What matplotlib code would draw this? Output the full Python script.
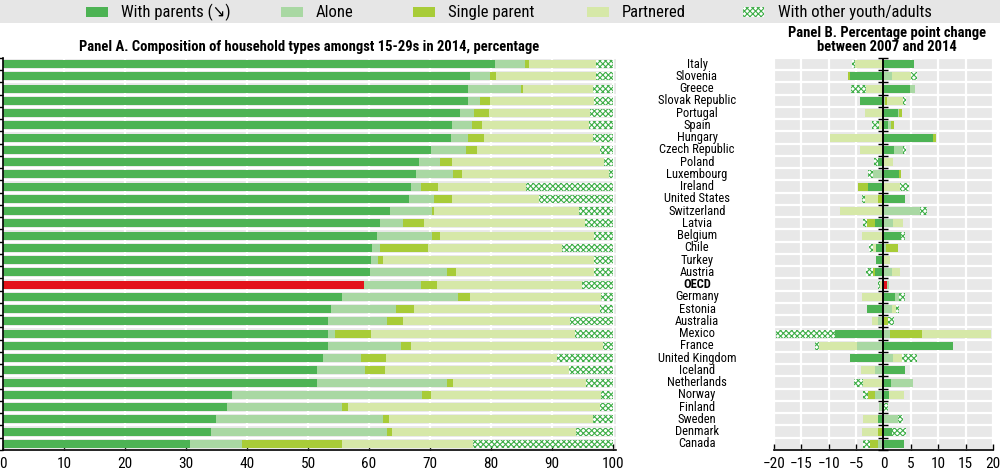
import matplotlib
matplotlib.use("Agg")
import matplotlib.pyplot as plt
import matplotlib.transforms as mtransforms
from matplotlib.patches import Rectangle
import numpy as np

# narrow face first; DejaVu (condensed) as fallback and for the arrow glyph
plt.rcParams['font.family'] = ['Roboto Condensed', 'DejaVu Sans']
plt.rcParams['font.stretch'] = 'condensed'
plt.rcParams['hatch.linewidth'] = 0.8

# ---- data -------------------------------------------------------------
countries = ["Italy", "Slovenia", "Greece", "Slovak Republic", "Portugal", "Spain",
             "Hungary", "Czech Republic", "Poland", "Luxembourg", "Ireland",
             "United States", "Switzerland", "Latvia", "Belgium", "Chile", "Turkey",
             "Austria", "OECD", "Germany", "Estonia", "Australia", "Mexico", "France",
             "United Kingdom", "Iceland", "Netherlands", "Norway", "Finland", "Sweden",
             "Denmark", "Canada"]

# Panel A: shares in 2014 (%)
with_parents = [80.6, 76.5, 76.3, 76.2, 75.0, 73.6, 73.5, 70.2, 68.2, 67.7, 66.9,
                66.6, 63.5, 61.8, 61.3, 60.5, 60.4, 60.2, 59.2, 55.5, 53.7, 53.3,
                53.3, 53.3, 52.4, 51.5, 51.4, 37.5, 36.7, 34.9, 34.1, 30.7]
alone = [4.9, 3.3, 8.7, 2.0, 2.3, 3.3, 2.8, 5.7, 3.4, 6.0, 1.6,
         4.0, 6.8, 3.8, 9.0, 1.3, 1.1, 12.6, 9.3, 19.1, 10.7, 9.7,
         1.2, 11.9, 6.3, 7.9, 21.4, 31.2, 18.8, 27.4, 28.9, 8.5]
single_parent = [0.8, 1.1, 0.3, 1.6, 2.4, 1.6, 2.5, 1.8, 2.0, 1.5, 2.8,
                 3.0, 0.3, 3.4, 1.3, 7.9, 0.8, 1.4, 2.6, 1.9, 3.0, 2.6,
                 5.9, 1.7, 4.1, 3.2, 0.9, 1.5, 1.1, 1.0, 0.8, 16.4]
partnered = [10.9, 16.3, 11.4, 17.1, 16.6, 17.5, 17.9, 20.1, 24.9, 24.1, 14.5,
             14.2, 23.9, 26.4, 25.3, 22.0, 34.6, 22.7, 23.8, 21.5, 30.5, 27.4,
             33.4, 31.5, 28.1, 30.2, 21.9, 27.8, 41.3, 33.4, 30.2, 21.4]
other = [2.8, 2.8, 3.3, 3.1, 3.7, 4.0, 3.3, 2.2, 1.5, 0.7, 14.2,
         12.2, 5.5, 4.6, 3.1, 8.3, 3.1, 3.1, 5.1, 2.0, 2.1, 7.0,
         6.2, 1.6, 9.1, 7.2, 4.4, 2.0, 2.1, 3.3, 6.0, 23.0]

# Panel B: percentage point change 2007-2014
chg_parents = [5.5, -6.1, 4.8, -4.2, 2.6, 0.9, 9.1, 2.0, -1.0, 2.9, -2.8,
               3.9, 0.0, -1.6, 3.2, -1.3, -1.3, -1.5, 0.6, 2.1, -3.0, 0.0,
               -8.9, 12.6, -6.1, 4.0, 1.4, 1.0, 0.0, -1.0, 1.5, 3.8]
chg_alone = [0.0, 1.6, 1.0, 0.2, 0.3, 0.5, 0.0, 1.5, 0.0, -1.9, 0.0,
             0.0, 6.7, 1.7, 0.0, 0.4, 0.0, 1.6, 0.4, 0.8, 1.6, -1.0,
             1.2, -4.9, 1.7, -1.5, 4.0, -1.6, -0.9, 2.6, 0.0, -1.0]
chg_single = [0.0, -0.3, 0.0, 0.4, 0.5, 0.6, 0.5, 0.0, 0.0, 0.3, -1.9,
              -1.0, 0.0, -1.4, 0.0, 2.2, 0.0, -0.4, 0.0, 0.0, 0.0, 0.8,
              5.8, 0.0, 0.0, 0.0, 0.0, -1.3, 0.0, 0.0, -1.0, -1.5]
chg_partnered = [-5.1, 3.5, -3.2, 3.0, -3.4, -0.8, -9.8, -4.2, 1.7, 0.0, 3.1,
                 -2.3, -8.0, 1.8, -3.9, -0.6, 1.2, 1.4, -0.7, -3.9, 0.7, -1.1,
                 12.6, -6.8, 1.7, -2.6, -3.7, 2.7, 0.0, -2.8, -3.0, 0.0]
chg_other = [-0.6, 1.0, -2.7, 0.5, 0.0, -1.2, 0.0, 0.6, -0.7, -1.0, 1.5,
             -0.6, 1.2, -0.7, 0.7, -0.7, 0.0, -1.2, -0.3, 1.1, 0.5, 1.2,
             -10.6, -0.7, 2.8, 0.0, -1.7, -0.8, 0.8, 0.9, 2.6, -1.2]

legend_labels = ["With parents (\u2198)", "Alone", "Single parent", "Partnered",
                 "With other youth/adults"]
colors = ["#4db354", "#a9d8a3", "#a8cc38", "#d6e8a8", "white"]
hatch_color = "#3fae48"
oecd_color = "#e3121b"
bg = "#e8e8e8"
HATCH = "xxxxxx"

# ---- figure -------------------------------------------------------------
fig = plt.figure(figsize=(10, 4.7), dpi=100)
axA = fig.add_axes([0.003, 0.0426, 0.613, 0.834])
axB = fig.add_axes([0.7737, 0.0426, 0.2195, 0.834])

n = len(countries)
y = np.arange(n)
bar_h = 0.66

series_a = [with_parents, alone, single_parent, partnered, other]
left = np.zeros(n)
for i, vals in enumerate(series_a):
    vals = np.array(vals)
    fc = [colors[i]] * n
    if i == 0:
        fc[countries.index("OECD")] = oecd_color
    if i == 4:
        axA.barh(y, vals, left=left, height=bar_h, color=colors[i],
                 edgecolor=hatch_color, hatch=HATCH, linewidth=0)
    else:
        axA.barh(y, vals, left=left, height=bar_h, color=fc, linewidth=0)
    left += vals

series_b = [chg_parents, chg_alone, chg_single, chg_partnered, chg_other]
pos = np.zeros(n)
neg = np.zeros(n)
for i, vals in enumerate(series_b):
    vals = np.array(vals)
    start = np.where(vals >= 0, pos, neg)
    fc = [colors[i]] * n
    if i == 0:
        fc[countries.index("OECD")] = oecd_color
    if i == 4:
        axB.barh(y, vals, left=start, height=bar_h, color=colors[i],
                 edgecolor=hatch_color, hatch=HATCH, linewidth=0)
    else:
        axB.barh(y, vals, left=start, height=bar_h, color=fc, linewidth=0)
    pos += np.where(vals >= 0, vals, 0)
    neg += np.where(vals < 0, vals, 0)

bounds = np.arange(-0.5, n, 1)

for ax in (axA, axB):
    ax.set_facecolor(bg)
    ax.set_ylim(n - 0.5, -0.5)
    ax.set_yticks(bounds)
    ax.set_yticklabels([])
    ax.grid(True, color="white", linewidth=1.6)
    ax.set_axisbelow(True)
    for s in ("top", "right"):
        ax.spines[s].set_visible(False)
    ax.spines["bottom"].set_linewidth(1.2)
    ax.tick_params(axis="x", direction="in", length=4, width=1, labelsize=11,
                   pad=5)

axA.set_xlim(0, 100.5)
axA.set_xticks(np.arange(0, 101, 10))
axA.spines["left"].set_linewidth(1.2)
axA.tick_params(axis="y", direction="out", length=3, width=1)

axB.set_xlim(-20, 20)
axB.set_xticks(np.arange(-20, 21, 5))
axB.spines["left"].set_visible(False)
axB.tick_params(axis="y", length=0)
axB.axvline(0, color="black", linewidth=1.4, zorder=5)
axB.plot(np.zeros(n + 1), bounds, linestyle="none", marker="_", markersize=7,
         color="black", markeredgewidth=1, zorder=6, clip_on=False)

# country labels between panels
trans = mtransforms.blended_transform_factory(fig.transFigure, axA.transData)
for i, c in enumerate(countries):
    axA.text(0.697, i, c, transform=trans, ha="center", va="center", fontsize=9,
             fontweight="bold" if c == "OECD" else "normal")

# titles
fig.text(0.309, 1 - 47 / 470, "Panel A. Composition of household types amongst 15-29s in 2014, percentage",
         ha="center", va="center", fontsize=10.5, fontweight="bold")
fig.text(0.887, 1 - 40 / 470, "Panel B. Percentage point change\nbetween 2007 and 2014",
         ha="center", va="center", fontsize=10.5, fontweight="bold", linespacing=1.0)

# legend band
fig.patches.append(Rectangle((0, 1 - 23 / 470), 1, 23 / 470, transform=fig.transFigure,
                             facecolor="#e6e6e6", edgecolor="none", zorder=0))
sw_x = [86, 281, 413, 587, 743]
for i, lab in enumerate(legend_labels):
    x0 = sw_x[i] / 1000
    if i == 4:
        r = Rectangle((x0, 1 - 17 / 470), 0.021, 10 / 470, transform=fig.transFigure,
                      facecolor="white", edgecolor=hatch_color, hatch=HATCH, linewidth=0)
    else:
        r = Rectangle((x0, 1 - 17 / 470), 0.022, 10 / 470, transform=fig.transFigure,
                      facecolor=colors[i], edgecolor="none")
    fig.patches.append(r)
    fig.text(x0 + 0.035, 1 - 12.5 / 470, lab, ha="left", va="center", fontsize=12)

fig.savefig("out.png", dpi=100)
